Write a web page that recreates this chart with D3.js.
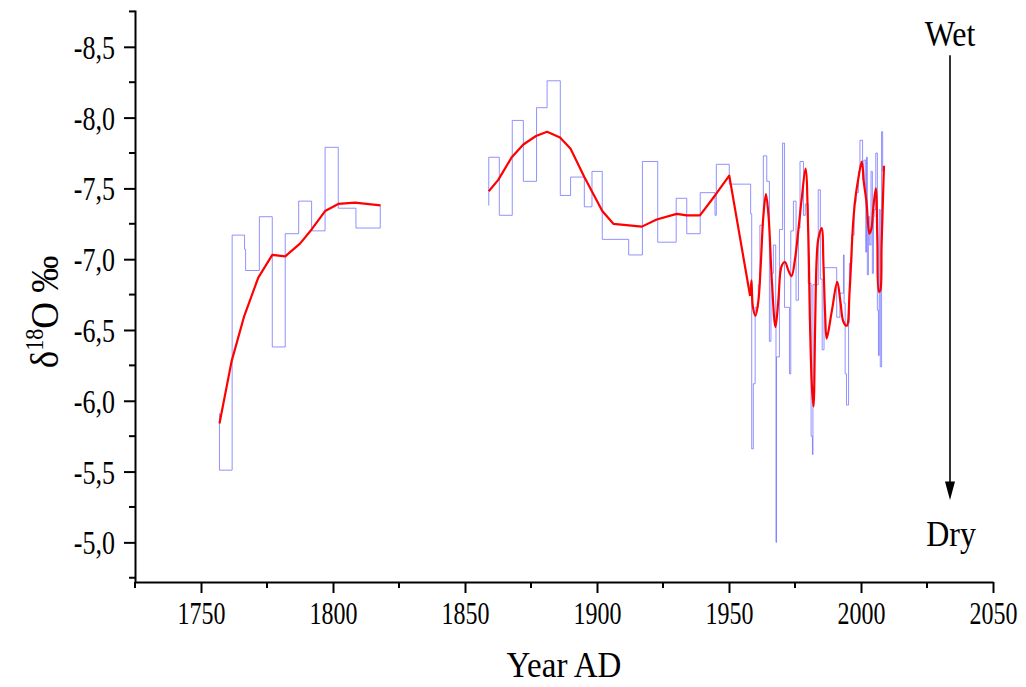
<!DOCTYPE html>
<html><head><meta charset="utf-8">
<script src="https://cdn.jsdelivr.net/npm/d3@7/dist/d3.min.js"></script>
<style>body{margin:0;background:#fff}svg{display:block}text{font-family:"Liberation Serif","Times New Roman",serif}</style>
</head><body><svg id="c" width="1026" height="687"></svg>
<script>
// ---- data ----
// Step record (blue): year at which each value begins
const stepYears1 = [1756.9,1757.0,1761.8,1766.5,1766.9,1772.1,1777.0,1781.9,1787.0,1791.9,1797.0,1802.0,1808.7,1817.9];
const stepVals1  = [-5.91,-5.51,-7.17,-7.07,-6.92,-7.30,-6.38,-7.18,-7.41,-7.20,-7.79,-7.36,-7.22,-7.38];
const stepYears2 = [1858.9,1859.0,1863.0,1867.9,1872.1,1877.1,1881.1,1886.1,1890.0,1895.2,1898.1,1902.0,1912.0,1917.2,1923.0,1930.0,1934.0,1939.1,1944.7,1945.2,
  1950.1,1958.2,1958.6,1959.2,1959.9,1961.1,1961.7,1963.0,1964.3,1965.3,1965.9,1966.8,1967.7,1967.8,1968.0,1969.1,1970.3,1971.0,1972.9,1973.4,1974.4,1975.4,1976.3,1976.9,1978.2,1978.9,1980.0,1981.1,1981.6,1981.8,1983.8,1984.6,1985.3,1986.0,1990.8,1992.0,1993.4,1993.6,1994.0,1994.5,1995.3,1995.6,1996.5,1997.4,1998.1,1999.0,1999.6,2000.6,2001.1,2001.8,2002.1,2002.4,2002.8,2003.3,2003.8,2004.3,2004.7,2005.0,2005.6,2006.2,2006.6,2006.9,2007.3,2007.8,2008.2];
const stepVals2  = [-7.38,-7.72,-7.31,-7.98,-7.55,-8.07,-8.26,-7.45,-7.58,-7.37,-7.62,-7.14,-7.03,-7.69,-7.12,-7.43,-7.18,-7.47,-7.31,-7.67,
  -7.53,-7.32,-5.66,-6.12,-6.66,-6.82,-7.24,-7.73,-7.55,-6.42,-6.90,-7.10,-6.55,-5.00,-6.31,-7.21,-7.82,-6.66,-6.19,-7.20,-7.41,-6.71,-7.22,-7.69,-7.31,-7.39,-6.83,-5.75,-5.62,-6.82,-7.49,-6.86,-6.36,-6.94,-6.59,-6.76,-7.03,-6.69,-6.19,-5.97,-6.55,-6.97,-7.17,-7.40,-7.47,-7.62,-7.84,-7.56,-7.70,-7.05,-7.72,-6.89,-7.30,-7.10,-7.62,-6.90,-7.30,-7.35,-7.75,-6.64,-6.32,-7.35,-6.24,-7.90,-7.62];
// Smoothed record (red): sparse part drawn as a polyline, dense part as a spline
const smoothYears1 = [1757,1761.6,1766.4,1771.7,1777.0,1781.9,1787.5,1791.9,1797.0,1802.0,1808.3,1818.0];
const smoothVals1  = [-5.84,-6.28,-6.60,-6.87,-7.03,-7.02,-7.11,-7.21,-7.34,-7.39,-7.40,-7.38];
const smoothYears2 = [1859.0,1862.6,1867.7,1872.1,1876.9,1881.1,1886.0,1890.0,1895.2,1902.0,1906.2,1917.0,1922.6,1930.2,1934.0,1939.0,1944.7,1950.1,1958.0];
const smoothVals2  = [-7.48,-7.56,-7.72,-7.81,-7.87,-7.90,-7.86,-7.78,-7.58,-7.34,-7.25,-7.23,-7.28,-7.32,-7.31,-7.31,-7.45,-7.59,-6.74];
const smoothYears3 = [1958.0,1958.5,1959.0,1960.0,1961.1,1962.0,1963.0,1964.0,1965.0,1966.2,1967.6,1968.7,1969.9,1971.2,1972.5,1973.7,1975.0,1976.3,1977.5,1979.0,1980.0,1980.7,1981.4,1982.0,1982.6,1983.2,1983.8,1985.1,1985.8,1986.4,1987.0,1989.0,1991.0,1992.2,1993.3,1994.6,1995.7,1997.0,1998.0,1999.0,2000.3,2001.1,2002.1,2003.2,2004.0,2004.6,2005.6,2006.2,2006.8,2007.3,2007.8,2008.7];
const smoothVals3  = [-6.74,-6.85,-6.67,-6.60,-6.70,-6.95,-7.30,-7.46,-7.30,-6.86,-6.52,-6.71,-6.95,-6.98,-6.92,-6.88,-7.00,-7.21,-7.42,-7.64,-7.20,-6.53,-6.10,-5.96,-6.50,-7.00,-7.14,-7.22,-6.95,-6.62,-6.44,-6.64,-6.84,-6.70,-6.56,-6.53,-6.78,-7.25,-7.45,-7.57,-7.69,-7.54,-7.40,-7.18,-7.22,-7.35,-7.50,-7.14,-6.77,-6.78,-7.10,-7.66];
const xTickLabels = [1750,1800,1850,1900,1950,2000,2050];
const yTickLabels = [-8.5,-8.0,-7.5,-7.0,-6.5,-6.0,-5.5,-5.0];

// ---- drawing ----
const svg = d3.select("#c");
const x = d3.scaleLinear().domain([1725,2050]).range([135,993]);
const y = d3.scaleLinear().domain([-8.76,-4.72]).range([10,582]);
const SY = 1.3; // vertical stretch of the serif lettering

const zip = (a,b)=>a.map((v,i)=>[v,b[i]]);
const stepLine = d3.line().x(d=>x(d[0])).y(d=>y(d[1])).curve(d3.curveStepAfter);
const polyLine = d3.line().x(d=>x(d[0])).y(d=>y(d[1]));
const splineLine = d3.line().x(d=>x(d[0])).y(d=>y(d[1])).curve(d3.curveCatmullRom.alpha(0.5));

[zip(stepYears1,stepVals1), zip(stepYears2,stepVals2)].forEach(s=>{
  svg.append("path").attr("d",stepLine(s)).attr("fill","none")
    .attr("stroke","rgb(110,110,255)").attr("stroke-opacity",0.75).attr("stroke-width",1);
});
[[zip(smoothYears1,smoothVals1),polyLine],[zip(smoothYears2,smoothVals2),polyLine],[zip(smoothYears3,smoothVals3),splineLine]].forEach(([s,gen])=>{
  svg.append("path").attr("d",gen(s)).attr("fill","none")
    .attr("stroke","#ff0000").attr("stroke-width",2.2).attr("stroke-linejoin","round");
});

// axes
const fmt = d3.format(".1f");
const yAxis = svg.append("g").attr("transform","translate(135,0)")
  .call(d3.axisLeft(y).tickValues(yTickLabels).tickSize(11).tickSizeOuter(0).tickPadding(9)
    .tickFormat(d=>fmt(d).replace(".",",").replace("−","-")));
yAxis.append("g").selectAll("line").data(d3.range(-8.75,-4.7,0.5)).join("line")
  .attr("x1",0).attr("x2",-6).attr("y1",d=>y(d)).attr("y2",d=>y(d)).attr("stroke","#000").attr("stroke-width",2);
const xAxis = svg.append("g").attr("transform","translate(0,582)")
  .call(d3.axisBottom(x).tickValues(xTickLabels).tickSize(11).tickSizeOuter(0).tickFormat(d3.format("d")));
xAxis.append("g").selectAll("line").data(d3.range(1725,2050,50)).join("line")
  .attr("y1",0).attr("y2",6).attr("x1",d=>x(d)).attr("x2",d=>x(d)).attr("stroke","#000").attr("stroke-width",2);
[yAxis,xAxis].forEach(g=>{
  g.attr("font-family","Liberation Serif").attr("font-size",24);
  g.select(".domain").attr("stroke","#000").attr("stroke-width",2);
  g.selectAll(".tick line").attr("stroke","#000").attr("stroke-width",2);
  g.selectAll(".tick text").attr("fill","#000").attr("font-family","Liberation Serif").attr("font-size",24)
    .attr("transform",`scale(1,${SY})`);
});
yAxis.selectAll(".tick text").attr("dy","0.34em").attr("font-size",26);
xAxis.selectAll(".tick text").attr("y",20/SY).attr("dy","0.71em");

// titles
svg.append("text").attr("transform",`translate(564,677) scale(1,1.1)`).attr("text-anchor","middle").style("font-size","33px").text("Year AD");
const yt = svg.append("text").attr("transform","translate(58,312) rotate(-90) scale(1,1.1)").attr("text-anchor","middle").style("font-size","37px");
yt.append("tspan").text("δ");
yt.append("tspan").attr("dy",-14).style("font-size","22px").text("18");
yt.append("tspan").attr("dy",14).text("O ‰");

// wet/dry arrow
svg.append("text").attr("transform","translate(950,46) scale(1,1.1)").attr("text-anchor","middle").style("font-size","32px").text("Wet");
svg.append("text").attr("transform","translate(951,546) scale(1,1.1)").attr("text-anchor","middle").style("font-size","32px").text("Dry");
svg.append("line").attr("x1",950).attr("x2",950).attr("y1",y(-8.44)).attr("y2",y(-5.4)).attr("stroke","#000").attr("stroke-width",1.6);
svg.append("path").attr("d",`M945,${y(-5.43)} L955,${y(-5.43)} L950,${y(-5.3)} Z`).attr("fill","#000");
</script></body></html>
